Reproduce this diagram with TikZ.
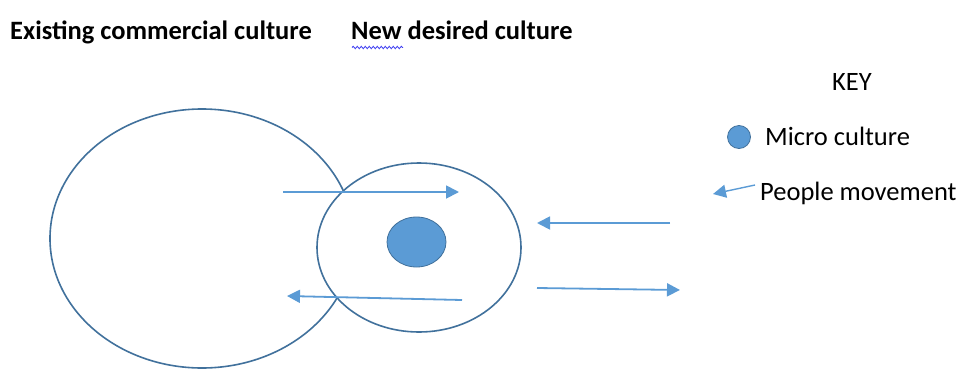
\documentclass[tikz,border=0pt]{standalone}
\usepackage{fontspec}
\setmainfont{Carlito}
\usetikzlibrary{shapes.geometric,arrows.meta,decorations.pathmorphing}
\definecolor{edgeblue}{HTML}{41719C}
\definecolor{accent}{HTML}{5B9BD5}
\definecolor{spell}{HTML}{3A3AF0}
\begin{document}
\begin{tikzpicture}[x=1pt,y=-1pt,
  culture/.style={ellipse,draw=edgeblue,line width=1.6pt,fill=white,inner sep=0pt,outer sep=0pt},
  micro/.style={ellipse,draw=edgeblue,line width=0.8pt,fill=accent,inner sep=0pt,outer sep=0pt},
  move/.style={draw=accent,line width=1.8pt,-{Triangle[length=13pt,width=13pt]}},
  lbl/.style={inner sep=0pt,font=\fontsize{26.5}{30}\selectfont,text=black}]
\useasboundingbox (0,0) rectangle (961,370);
% titles
\node[lbl,anchor=base west,font=\fontsize{26.5}{30}\selectfont\bfseries] (existingT) at (10,39) {Existing commercial culture};
\node[lbl,anchor=base west,font=\fontsize{26.5}{30}\selectfont\bfseries] (newT) at (351,39) {New desired culture};
\coordinate (wavyA) at (352,47.5);
\coordinate (wavyB) at (403,47.5);
\draw[spell,line width=0.8pt,decorate,decoration={snake,amplitude=1.2pt,segment length=4pt}] (wavyA) -- (wavyB);
% circles
\node[culture,minimum width=304pt,minimum height=259pt] (existing) at (202,238.5) {};
\node[culture,minimum width=204pt,minimum height=169pt] (desired) at (419,247.5) {};
\node[micro,minimum width=59pt,minimum height=50pt] (microC) at (416.5,242) {};
% movement arrows
\coordinate (a1s) at (283,192);
\coordinate (a1e) at (459,192);
\coordinate (a2s) at (462,300);
\coordinate (a2e) at (287,296);
\coordinate (a3s) at (670,223);
\coordinate (a3e) at (537,223);
\coordinate (a4s) at (537,288);
\coordinate (a4e) at (680,290);
\draw[move] (a1s) -- (a1e);
\draw[move] (a2s) -- (a2e);
\draw[move] (a3s) -- (a3e);
\draw[move] (a4s) -- (a4e);
% key
\node[lbl,anchor=base] (keyT) at (852,90) {KEY};
\node[micro,minimum width=23pt,minimum height=23pt] (keyDot) at (739,137) {};
\node[lbl,anchor=base west] (keyMicro) at (765,145) {Micro culture};
\coordinate (k1s) at (755,185);
\coordinate (k1e) at (713,194);
\draw[move,line width=1.4pt] (k1s) -- (k1e);
\node[lbl,anchor=base west] (keyPeople) at (760,200) {People movement};
\end{tikzpicture}
\end{document}
